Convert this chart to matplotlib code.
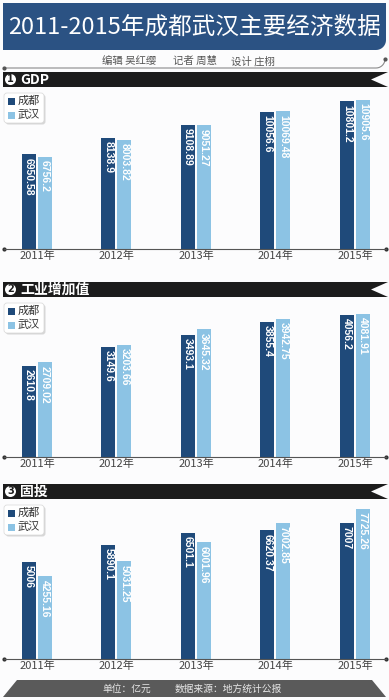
import numpy as np
import matplotlib.pyplot as plt
from matplotlib.patches import Polygon, Rectangle, FancyBboxPatch, Circle

plt.rcParams['font.family'] = ['Noto Sans CJK SC', 'DejaVu Sans']

# --- data (亿元) ---
years = ['2011年', '2012年', '2013年', '2014年', '2015年']
cities = ['成都', '武汉']
gdp_cd = [6950.58, 8138.9, 9108.89, 10056.6, 10801.2]
gdp_wh = [6756.2, 8003.82, 9051.27, 10069.48, 10905.6]
ind_cd = [2610.8, 3149.6, 3493.1, 3855.4, 4056.2]
ind_wh = [2709.02, 3203.66, 3645.32, 3942.75, 4081.91]
inv_cd = [5006, 5890.1, 6501.1, 6620.37, 7007]
inv_wh = [4255.16, 5031.25, 6001.96, 7002.85, 7725.26]

title = '2011-2015年成都武汉主要经济数据'
credits = ['编辑 吴红缨', '记者 周慧', '设计 庄栩']
footer = ['单位：亿元', '数据来源：地方统计公报']

c_cd = '#1f4a7a'
c_wh = '#8cc3e4'
c_title = '#2b5283'
c_header = '#1c1c1c'

W, H = 389, 700
fig = plt.figure(figsize=(W / 100, H / 100), dpi=100)
fig.patch.set_facecolor('#fcfcfd')

# canvas in pixel coordinates (y down) for banners, legends, decorations
cv = fig.add_axes([0, 0, 1, 1], zorder=0)
cv.set_xlim(0, W)
cv.set_ylim(H, 0)
cv.axis('off')

# title banner with rounded bottom-right corner
t = np.linspace(0, np.pi / 2, 12)
arc = np.column_stack([376 + 10 * np.cos(t), 40 + 10 * np.sin(t)])
pts = np.vstack([[[3, 3], [386, 3]], arc, [[3, 50]]])
cv.add_patch(Polygon(pts, closed=True, fc=c_title, ec='none'))
cv.text(194, 27, title, color='white', fontsize=17, ha='center', va='center',
        fontweight='medium')

# credits line
for txt, x in zip(credits, [129, 195, 253]):
    cv.text(x, 61, txt, fontsize=7.5, color='#555555', ha='center', va='center')
t = np.linspace(np.pi / 2, 0, 12)
curve = np.vstack([[[4, 68]], np.column_stack([376 + 9 * np.cos(t), 59 + 9 * np.sin(t)])])
cv.plot(curve[:, 0], curve[:, 1], color='#8a8a8a', lw=0.8)
cv.plot([4, 385], [68, 59], 'o', color='#555555', ms=2)

sections = [
    ('1', 'GDP', gdp_cd, gdp_wh, 72, 249, 100),
    ('2', '工业增加值', ind_cd, ind_wh, 282, 457, 314),
    ('3', '固投', inv_cd, inv_wh, 484, 659, 509),
]

x = np.arange(len(years))
px_per_unit = 79.5
x_left = -(37 - 4) / px_per_unit
x_right = 4 + (386 - 355) / px_per_unit
bw = 14 / px_per_unit
off = 8 / px_per_unit

for num, name, cd, wh, ht, base, top in sections:
    # section header ribbon
    hh = 15
    cv.add_patch(Polygon([[3, ht], [388, ht], [371, ht + hh / 2], [388, ht + hh], [3, ht + hh]],
                         closed=True, fc=c_header, ec='none'))
    cv.add_patch(Circle((10.5, ht + hh / 2), 5.5, fc='white', ec='none'))
    cv.text(10.5, ht + hh / 2, num, fontsize=7, fontweight='bold', color=c_header,
            ha='center', va='center', family='DejaVu Sans')
    cv.text(20, ht + hh / 2, name, fontsize=10, fontweight='bold', color='white',
            ha='left', va='center')

    # legend box
    ly = ht + 21
    cv.add_patch(FancyBboxPatch((5.5, ly + 1.5), 40, 30, boxstyle='round,pad=0,rounding_size=3',
                                fc='#bfbfbf', ec='none', alpha=0.6))
    cv.add_patch(FancyBboxPatch((4, ly), 40, 30, boxstyle='round,pad=0,rounding_size=3',
                                fc='white', ec='#d8d8d8', lw=0.5))
    for i, (city, col) in enumerate(zip(cities, [c_cd, c_wh])):
        yy = ly + 8 + i * 14
        cv.add_patch(Rectangle((8, yy - 3.5), 7, 7, fc=col, ec='none'))
        cv.text(18, yy, city, fontsize=8, color='#333333', ha='left', va='center')

    # chart axes
    ax = fig.add_axes([4 / W, 1 - base / H, 382 / W, (base - top) / H], zorder=1)
    ax.patch.set_visible(False)
    ax.set_xlim(x_left, x_right)
    ax.set_ylim(0, max(max(cd), max(wh)))
    for s in ['top', 'left', 'right']:
        ax.spines[s].set_visible(False)
    ax.spines['bottom'].set_color('#555555')
    ax.spines['bottom'].set_linewidth(0.8)
    ax.set_yticks([])
    ax.set_xticks(x)
    ax.set_xticklabels(years, fontsize=8, color='#444444')
    ax.tick_params(axis='x', length=0, pad=1.5)
    ax.bar(x - off, cd, width=bw, color=c_cd, clip_on=False)
    ax.bar(x + off, wh, width=bw, color=c_wh, clip_on=False)
    for xs, vals in [(x - off, cd), (x + off, wh)]:
        for xi, v in zip(xs, vals):
            ax.annotate(str(v), (xi, v), xytext=(0, -2.5), textcoords='offset points',
                        rotation=-90, ha='center', va='top', color='white', fontsize=7.5,
                        fontweight='bold', family='Liberation Sans')
    cv.plot([4, 386], [base, base], 'o', color='#333333', ms=2)

# footer
cv.add_patch(Polygon([[17, 680], [372, 680], [386, 697], [3, 697]], closed=True,
                     fc='#5a5a5a', ec='none'))
cv.text(127, 688.5, footer[0], fontsize=7, color='#e6e6e6', ha='center', va='center')
cv.text(228, 688.5, footer[1], fontsize=7, color='#e6e6e6', ha='center', va='center')

plt.savefig('out.png', dpi=100)
